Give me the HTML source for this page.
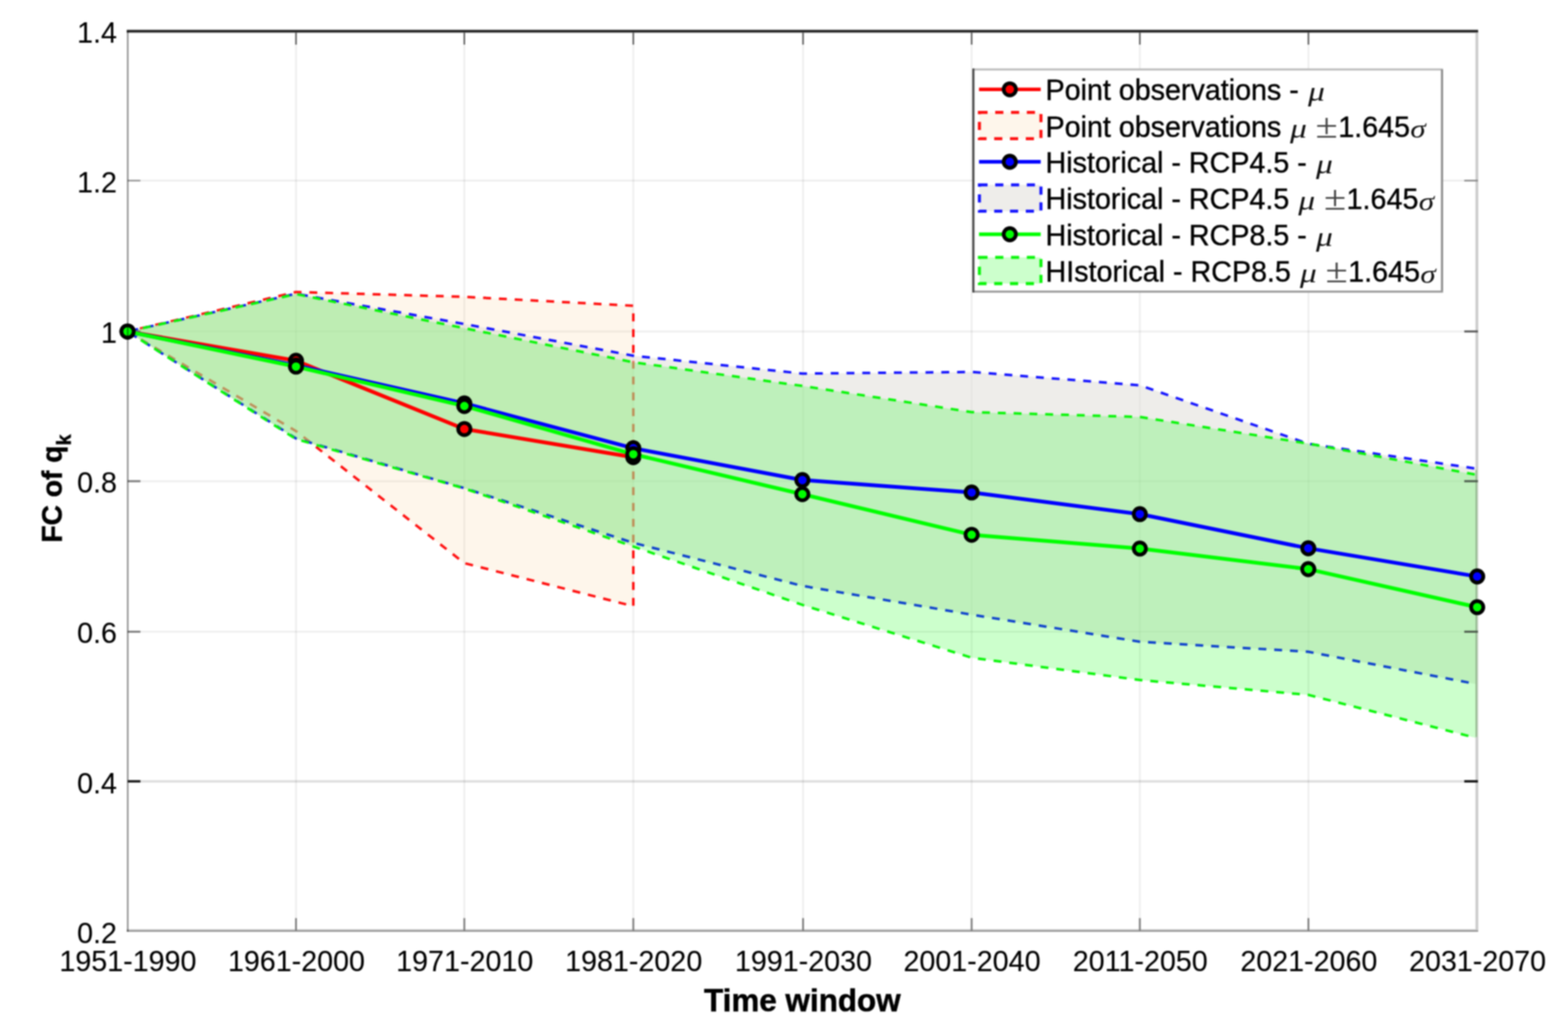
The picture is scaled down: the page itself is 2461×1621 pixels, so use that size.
<!DOCTYPE html>
<html lang="en"><head><meta charset="utf-8"><title>FC of qk vs Time window</title>
<style>
html,body{margin:0;padding:0;background:#fff;}
body{width:2461px;height:1621px;overflow:hidden;}
svg{display:block;filter:blur(1px);}
text{font-family:"Liberation Sans",Arial,Helvetica,sans-serif;fill:#000000;stroke:#000000;stroke-width:0.15px;}
.tk{font-size:45px;}
.lg{font-size:45px;fill:#000;stroke:#000;stroke-width:0.55px;}
.m{font-family:"Liberation Serif","DejaVu Serif",serif;font-style:italic;fill:#111;stroke:none;}
.pm{font-family:"Liberation Serif","DejaVu Serif",serif;fill:#444;stroke:none;}
</style></head><body>
<svg width="2461" height="1621" viewBox="0 0 2461 1621" role="img" aria-label="FC of qk versus time window">
<rect x="0" y="0" width="2461" height="1621" fill="#ffffff"/>
<g stroke="#000" stroke-opacity="0.07" stroke-width="2.6" fill="none">
<line x1="464.6" y1="48.9" x2="464.6" y2="1461.3"/>
<line x1="728.8" y1="48.9" x2="728.8" y2="1461.3"/>
<line x1="994.0" y1="48.9" x2="994.0" y2="1461.3"/>
<line x1="1260.4" y1="48.9" x2="1260.4" y2="1461.3"/>
<line x1="1525.0" y1="48.9" x2="1525.0" y2="1461.3"/>
<line x1="1789.0" y1="48.9" x2="1789.0" y2="1461.3"/>
<line x1="2053.6" y1="48.9" x2="2053.6" y2="1461.3"/>
<line x1="200.3" y1="283.4" x2="2318.4" y2="283.4"/>
<line x1="200.3" y1="520.1" x2="2318.4" y2="520.1"/>
<line x1="200.3" y1="755.1" x2="2318.4" y2="755.1"/>
<line x1="200.3" y1="991.3" x2="2318.4" y2="991.3"/>
<line x1="200.3" y1="1226.1" x2="2318.4" y2="1226.1" stroke-opacity="0.13" stroke-width="3.6"/>
</g>
<polygon points="200.2,520.2 464.6,458.2 728.8,465.8 994.0,479.8 994.0,951.3 728.8,883.7 464.6,676.5 200.2,520.2" fill="rgb(250,200,130)" fill-opacity="0.16" stroke="none"/>
<polygon points="200.2,520.2 464.6,458.2 728.8,465.8 994.0,479.8 994.0,951.3 728.8,883.7 464.6,676.5 200.2,520.2" fill="none" stroke="#ff1010" stroke-width="4" stroke-dasharray="12.4 12.4" stroke-dashoffset="5" stroke-linejoin="round"/>
<polygon points="200.2,520.2 464.6,461.0 728.8,508.4 994.0,558.2 1259.3,586.2 1525.0,583.7 1789.0,604.6 2053.4,696.4 2318.5,735.6 2318.5,1073.7 2053.4,1022.8 1789.0,1007.0 1525.0,964.5 1259.3,919.4 994.0,851.8 728.8,766.0 464.6,688.0 200.2,520.2" fill="rgb(222,219,213)" fill-opacity="0.5" stroke="none"/>
<polyline points="200.2,520.2 464.6,461.0 728.8,508.4 994.0,558.2 1259.3,586.2 1525.0,583.7 1789.0,604.6 2053.4,696.4 2318.5,735.6" fill="none" stroke="#1414ff" stroke-width="4" stroke-dasharray="12.4 12.4" stroke-dashoffset="-4.5" stroke-linejoin="round"/>
<polyline points="200.2,520.2 464.6,688.0 728.8,766.0 994.0,851.8 1259.3,919.4 1525.0,964.5 1789.0,1007.0 2053.4,1022.8 2318.5,1073.7" fill="none" stroke="#1414ff" stroke-width="4" stroke-dasharray="12.4 12.4" stroke-dashoffset="-4.5" stroke-linejoin="round"/>
<polygon points="200.2,520.2 464.6,461.5 728.8,515.0 994.0,568.4 1259.3,605.6 1525.0,646.7 1789.0,654.3 2053.4,696.0 2318.5,745.2 2318.5,1158.4 2053.4,1090.4 1789.0,1067.1 1525.0,1032.1 1259.3,949.2 994.0,857.6 728.8,766.5 464.6,689.0 200.2,520.2" fill="rgb(0,255,0)" fill-opacity="0.2" stroke="none"/>
<polyline points="200.2,520.2 464.6,461.5 728.8,515.0 994.0,568.4 1259.3,605.6 1525.0,646.7 1789.0,654.3 2053.4,696.0 2318.5,745.2" fill="none" stroke="#0af50a" stroke-width="4" stroke-dasharray="12.4 12.4" stroke-dashoffset="0" stroke-linejoin="round"/>
<polyline points="200.2,520.2 464.6,689.0 728.8,766.5 994.0,857.6 1259.3,949.2 1525.0,1032.1 1789.0,1067.1 2053.4,1090.4 2318.5,1158.4" fill="none" stroke="#0af50a" stroke-width="4" stroke-dasharray="12.4 12.4" stroke-dashoffset="0" stroke-linejoin="round"/>
<g fill="none">
<line x1="2318.0" y1="49.0" x2="2318.0" y2="1462.1" stroke="#cccccc" stroke-width="4.4"/>
<line x1="2317.1" y1="737.6" x2="2317.1" y2="1156.4" stroke="rgb(140,180,135)" stroke-width="2.2"/>
<line x1="2319.0" y1="737.6" x2="2319.0" y2="1156.4" stroke="rgb(200,214,196)" stroke-width="1.8"/>
<line x1="198.9" y1="1460.1" x2="2319.9" y2="1460.1" stroke="#cacaca" stroke-width="4.2"/>
<line x1="198.9" y1="1461.1" x2="2319.9" y2="1461.1" stroke="#8e8e8e" stroke-width="2"/>
<line x1="198.9" y1="49.0" x2="2319.9" y2="49.0" stroke="#b4b4b4" stroke-width="5.8"/>
<line x1="198.9" y1="49.0" x2="2319.9" y2="49.0" stroke="#0c0c0c" stroke-width="2.8"/>
</g>
<g fill="none">
<line x1="464.6" y1="50.0" x2="464.6" y2="70.0" stroke="#5a5a5a" stroke-width="2.4"/>
<line x1="464.6" y1="1460.4" x2="464.6" y2="1440.7" stroke="#7c7c7c" stroke-width="2.8"/>
<line x1="728.8" y1="50.0" x2="728.8" y2="70.0" stroke="#5a5a5a" stroke-width="2.4"/>
<line x1="728.8" y1="1460.4" x2="728.8" y2="1440.7" stroke="#7c7c7c" stroke-width="2.8"/>
<line x1="994.0" y1="50.0" x2="994.0" y2="70.0" stroke="#5a5a5a" stroke-width="2.4"/>
<line x1="994.0" y1="1460.4" x2="994.0" y2="1440.7" stroke="#7c7c7c" stroke-width="2.8"/>
<line x1="1260.4" y1="50.0" x2="1260.4" y2="70.0" stroke="#5a5a5a" stroke-width="2.4"/>
<line x1="1260.4" y1="1460.4" x2="1260.4" y2="1440.7" stroke="#7c7c7c" stroke-width="2.8"/>
<line x1="1525.0" y1="50.0" x2="1525.0" y2="70.0" stroke="#5a5a5a" stroke-width="2.4"/>
<line x1="1525.0" y1="1460.4" x2="1525.0" y2="1440.7" stroke="#7c7c7c" stroke-width="2.8"/>
<line x1="1789.0" y1="50.0" x2="1789.0" y2="70.0" stroke="#5a5a5a" stroke-width="2.4"/>
<line x1="1789.0" y1="1460.4" x2="1789.0" y2="1440.7" stroke="#7c7c7c" stroke-width="2.8"/>
<line x1="2053.6" y1="50.0" x2="2053.6" y2="70.0" stroke="#5a5a5a" stroke-width="2.4"/>
<line x1="2053.6" y1="1460.4" x2="2053.6" y2="1440.7" stroke="#7c7c7c" stroke-width="2.8"/>
<line x1="200.5" y1="283.4" x2="220.4" y2="283.4" stroke="#929292" stroke-width="2.4"/>
<line x1="2319.6" y1="283.4" x2="2298.2" y2="283.4" stroke="#848484" stroke-width="2.4"/>
<line x1="200.5" y1="520.1" x2="220.4" y2="520.1" stroke="#787878" stroke-width="3"/>
<line x1="2319.6" y1="520.1" x2="2298.2" y2="520.1" stroke="#505050" stroke-width="3"/>
<line x1="200.5" y1="755.1" x2="220.4" y2="755.1" stroke="#787878" stroke-width="3"/>
<line x1="2319.6" y1="755.1" x2="2298.2" y2="755.1" stroke="#4c5a4c" stroke-width="3.2"/>
<line x1="200.5" y1="991.3" x2="220.4" y2="991.3" stroke="#787878" stroke-width="3"/>
<line x1="2319.6" y1="991.3" x2="2298.2" y2="991.3" stroke="#4c5a4c" stroke-width="3.2"/>
<line x1="200.5" y1="1226.1" x2="220.4" y2="1226.1" stroke="#1c1c1c" stroke-width="3.8"/>
<line x1="2319.6" y1="1226.1" x2="2298.2" y2="1226.1" stroke="#161616" stroke-width="3.8"/>
</g>
<polyline points="200.2,520.2 464.6,566.0 728.8,673.2 994.0,717.5" fill="none" stroke="#ff0000" stroke-width="6" stroke-linejoin="round"/>
<circle cx="200.2" cy="520.2" r="9.6" fill="#ff0000" stroke="#000" stroke-width="5.9"/>
<circle cx="464.6" cy="566.0" r="9.6" fill="#ff0000" stroke="#000" stroke-width="5.9"/>
<circle cx="728.8" cy="673.2" r="9.6" fill="#ff0000" stroke="#000" stroke-width="5.9"/>
<circle cx="994.0" cy="717.5" r="9.6" fill="#ff0000" stroke="#000" stroke-width="5.9"/>
<polyline points="200.2,520.2 464.6,573.5 728.8,633.0 994.0,703.4 1259.3,753.3 1525.0,772.8 1789.0,806.8 2053.4,860.4 2318.5,904.6" fill="none" stroke="#0000ff" stroke-width="6" stroke-linejoin="round"/>
<circle cx="200.2" cy="520.2" r="9.6" fill="#0000ff" stroke="#000" stroke-width="5.9"/>
<circle cx="464.6" cy="573.5" r="9.6" fill="#0000ff" stroke="#000" stroke-width="5.9"/>
<circle cx="728.8" cy="633.0" r="9.6" fill="#0000ff" stroke="#000" stroke-width="5.9"/>
<circle cx="994.0" cy="703.4" r="9.6" fill="#0000ff" stroke="#000" stroke-width="5.9"/>
<circle cx="1259.3" cy="753.3" r="9.6" fill="#0000ff" stroke="#000" stroke-width="5.9"/>
<circle cx="1525.0" cy="772.8" r="9.6" fill="#0000ff" stroke="#000" stroke-width="5.9"/>
<circle cx="1789.0" cy="806.8" r="9.6" fill="#0000ff" stroke="#000" stroke-width="5.9"/>
<circle cx="2053.4" cy="860.4" r="9.6" fill="#0000ff" stroke="#000" stroke-width="5.9"/>
<circle cx="2318.5" cy="904.6" r="9.6" fill="#0000ff" stroke="#000" stroke-width="5.9"/>
<polyline points="200.2,520.2 464.6,575.3 728.8,637.1 994.0,712.8 1259.3,775.5 1525.0,839.2 1789.0,860.8 2053.4,893.1 2318.5,952.8" fill="none" stroke="#00ff00" stroke-width="6" stroke-linejoin="round"/>
<circle cx="200.2" cy="520.2" r="9.6" fill="#00ff00" stroke="#000" stroke-width="5.9"/>
<circle cx="464.6" cy="575.3" r="9.6" fill="#00ff00" stroke="#000" stroke-width="5.9"/>
<circle cx="728.8" cy="637.1" r="9.6" fill="#00ff00" stroke="#000" stroke-width="5.9"/>
<circle cx="994.0" cy="712.8" r="9.6" fill="#00ff00" stroke="#000" stroke-width="5.9"/>
<circle cx="1259.3" cy="775.5" r="9.6" fill="#00ff00" stroke="#000" stroke-width="5.9"/>
<circle cx="1525.0" cy="839.2" r="9.6" fill="#00ff00" stroke="#000" stroke-width="5.9"/>
<circle cx="1789.0" cy="860.8" r="9.6" fill="#00ff00" stroke="#000" stroke-width="5.9"/>
<circle cx="2053.4" cy="893.1" r="9.6" fill="#00ff00" stroke="#000" stroke-width="5.9"/>
<circle cx="2318.5" cy="952.8" r="9.6" fill="#00ff00" stroke="#000" stroke-width="5.9"/>
<line x1="200.5" y1="49.0" x2="200.5" y2="1462.1" stroke="#000" stroke-opacity="0.39" stroke-width="2.8" fill="none"/>
<g class="tk" text-anchor="end">
<text transform="translate(183.6,66.5) scale(1,1.04)">1.4</text>
<text transform="translate(183.6,302.1) scale(1,1.04)">1.2</text>
<text transform="translate(183.6,537.7) scale(1,1.04)">1</text>
<text transform="translate(183.6,773.4) scale(1,1.04)">0.8</text>
<text transform="translate(183.6,1009.0) scale(1,1.04)">0.6</text>
<text transform="translate(183.6,1244.6) scale(1,1.04)">0.4</text>
<text transform="translate(183.6,1480.2) scale(1,1.04)">0.2</text>
</g>
<g class="tk" text-anchor="middle">
<text transform="translate(200.8,1524) scale(1,1.04)">1951-1990</text>
<text transform="translate(465.2,1524) scale(1,1.04)">1961-2000</text>
<text transform="translate(729.4,1524) scale(1,1.04)">1971-2010</text>
<text transform="translate(994.6,1524) scale(1,1.04)">1981-2020</text>
<text transform="translate(1261.0,1524) scale(1,1.04)">1991-2030</text>
<text transform="translate(1525.6,1524) scale(1,1.04)">2001-2040</text>
<text transform="translate(1789.6,1524) scale(1,1.04)">2011-2050</text>
<text transform="translate(2054.2,1524) scale(1,1.04)">2021-2060</text>
<text transform="translate(2319.0,1524) scale(1,1.04)">2031-2070</text>
</g>
<text transform="translate(1259.3,1587.3) scale(1,1.025)" text-anchor="middle" font-size="49.3" font-weight="bold" style="fill:#000;stroke:#000;stroke-width:0.7px">Time window</text>
<text transform="translate(96.8,851.6) rotate(-90) scale(1,1.02)" font-size="44.3" font-weight="bold" style="fill:#000;stroke:#000;stroke-width:0.7px">FC of q<tspan font-size="31" dy="14.2">k</tspan></text>
<rect x="1527.7" y="109.0" width="735.6" height="348.6" fill="#fff" stroke="none"/>
<g fill="none">
<line x1="1527.7" y1="109.0" x2="2264.8" y2="109.0" stroke="#b8b8b8" stroke-width="3"/>
<line x1="2263.3" y1="109.0" x2="2263.3" y2="459.1" stroke="#8e8e8e" stroke-width="3.4"/>
<line x1="1526.2" y1="457.6" x2="2264.8" y2="457.6" stroke="#9a9a9a" stroke-width="3.4"/>
<line x1="1527.7" y1="107.5" x2="1527.7" y2="459.1" stroke="#4a4a4a" stroke-width="3.4"/>
</g>
<line x1="1536.6" y1="140.2" x2="1633.4" y2="140.2" stroke="#ff0000" stroke-width="5.6"/>
<circle cx="1584.9" cy="140.2" r="9.6" fill="#ff0000" stroke="#000" stroke-width="5.9"/>
<text class="lg" transform="translate(1641.0,157.2) scale(1,1.04)">Point observations -</text>
<text class="m" transform="translate(2053.1,157.5) scale(1.17,1)" font-size="45">μ</text>
<rect x="1537.2" y="176.4" width="96.6" height="41.2" fill="rgb(250,200,130)" fill-opacity="0.16" stroke="#ff1010" stroke-width="4.8" stroke-dasharray="12.8 12"/>
<text class="lg" transform="translate(1641.0,215.2) scale(1,1.04)">Point observations</text>
<text class="m" transform="translate(2024.7,215.5) scale(1.17,1)" font-size="45">μ</text>
<text class="pm" transform="translate(2064.8,216.1) scale(1.165,1)" font-size="54.5">±</text>
<text class="lg" transform="translate(2100.5,215.2) scale(1,1.04)">1.645</text>
<text class="m" transform="translate(2213.6,216.4) scale(1.15,1)" font-size="42.5">σ</text>
<line x1="1536.6" y1="253.9" x2="1633.4" y2="253.9" stroke="#0000ff" stroke-width="5.6"/>
<circle cx="1584.9" cy="253.9" r="9.6" fill="#0000ff" stroke="#000" stroke-width="5.9"/>
<text class="lg" transform="translate(1641.0,271.4) scale(1,1.04)">Historical - RCP4.5 -</text>
<text class="m" transform="translate(2065.5,271.7) scale(1.17,1)" font-size="45">μ</text>
<rect x="1537.2" y="290.1" width="96.6" height="41.2" fill="rgb(222,219,213)" fill-opacity="0.5" stroke="#1414ff" stroke-width="4.8" stroke-dasharray="12.8 12"/>
<text class="lg" transform="translate(1641.0,328.4) scale(1,1.04)">Historical - RCP4.5</text>
<text class="m" transform="translate(2037.8,328.7) scale(1.17,1)" font-size="45">μ</text>
<text class="pm" transform="translate(2077.9,329.3) scale(1.165,1)" font-size="54.5">±</text>
<text class="lg" transform="translate(2113.6,328.4) scale(1,1.04)">1.645</text>
<text class="m" transform="translate(2226.7,329.6) scale(1.15,1)" font-size="42.5">σ</text>
<line x1="1536.6" y1="367.6" x2="1633.4" y2="367.6" stroke="#00ff00" stroke-width="5.6"/>
<circle cx="1584.9" cy="367.6" r="9.6" fill="#00ff00" stroke="#000" stroke-width="5.9"/>
<text class="lg" transform="translate(1641.0,385.2) scale(1,1.04)">Historical - RCP8.5 -</text>
<text class="m" transform="translate(2065.5,385.5) scale(1.17,1)" font-size="45">μ</text>
<rect x="1537.2" y="403.8" width="96.6" height="41.2" fill="rgb(0,255,0)" fill-opacity="0.2" stroke="#0af50a" stroke-width="4.8" stroke-dasharray="12.8 12"/>
<text class="lg" transform="translate(1641.0,442.4) scale(1,1.04)">HIstorical - RCP8.5</text>
<text class="m" transform="translate(2040.3,442.7) scale(1.17,1)" font-size="45">μ</text>
<text class="pm" transform="translate(2080.4,443.3) scale(1.165,1)" font-size="54.5">±</text>
<text class="lg" transform="translate(2116.1,442.4) scale(1,1.04)">1.645</text>
<text class="m" transform="translate(2229.2,443.6) scale(1.15,1)" font-size="42.5">σ</text>
</svg>
</body></html>
